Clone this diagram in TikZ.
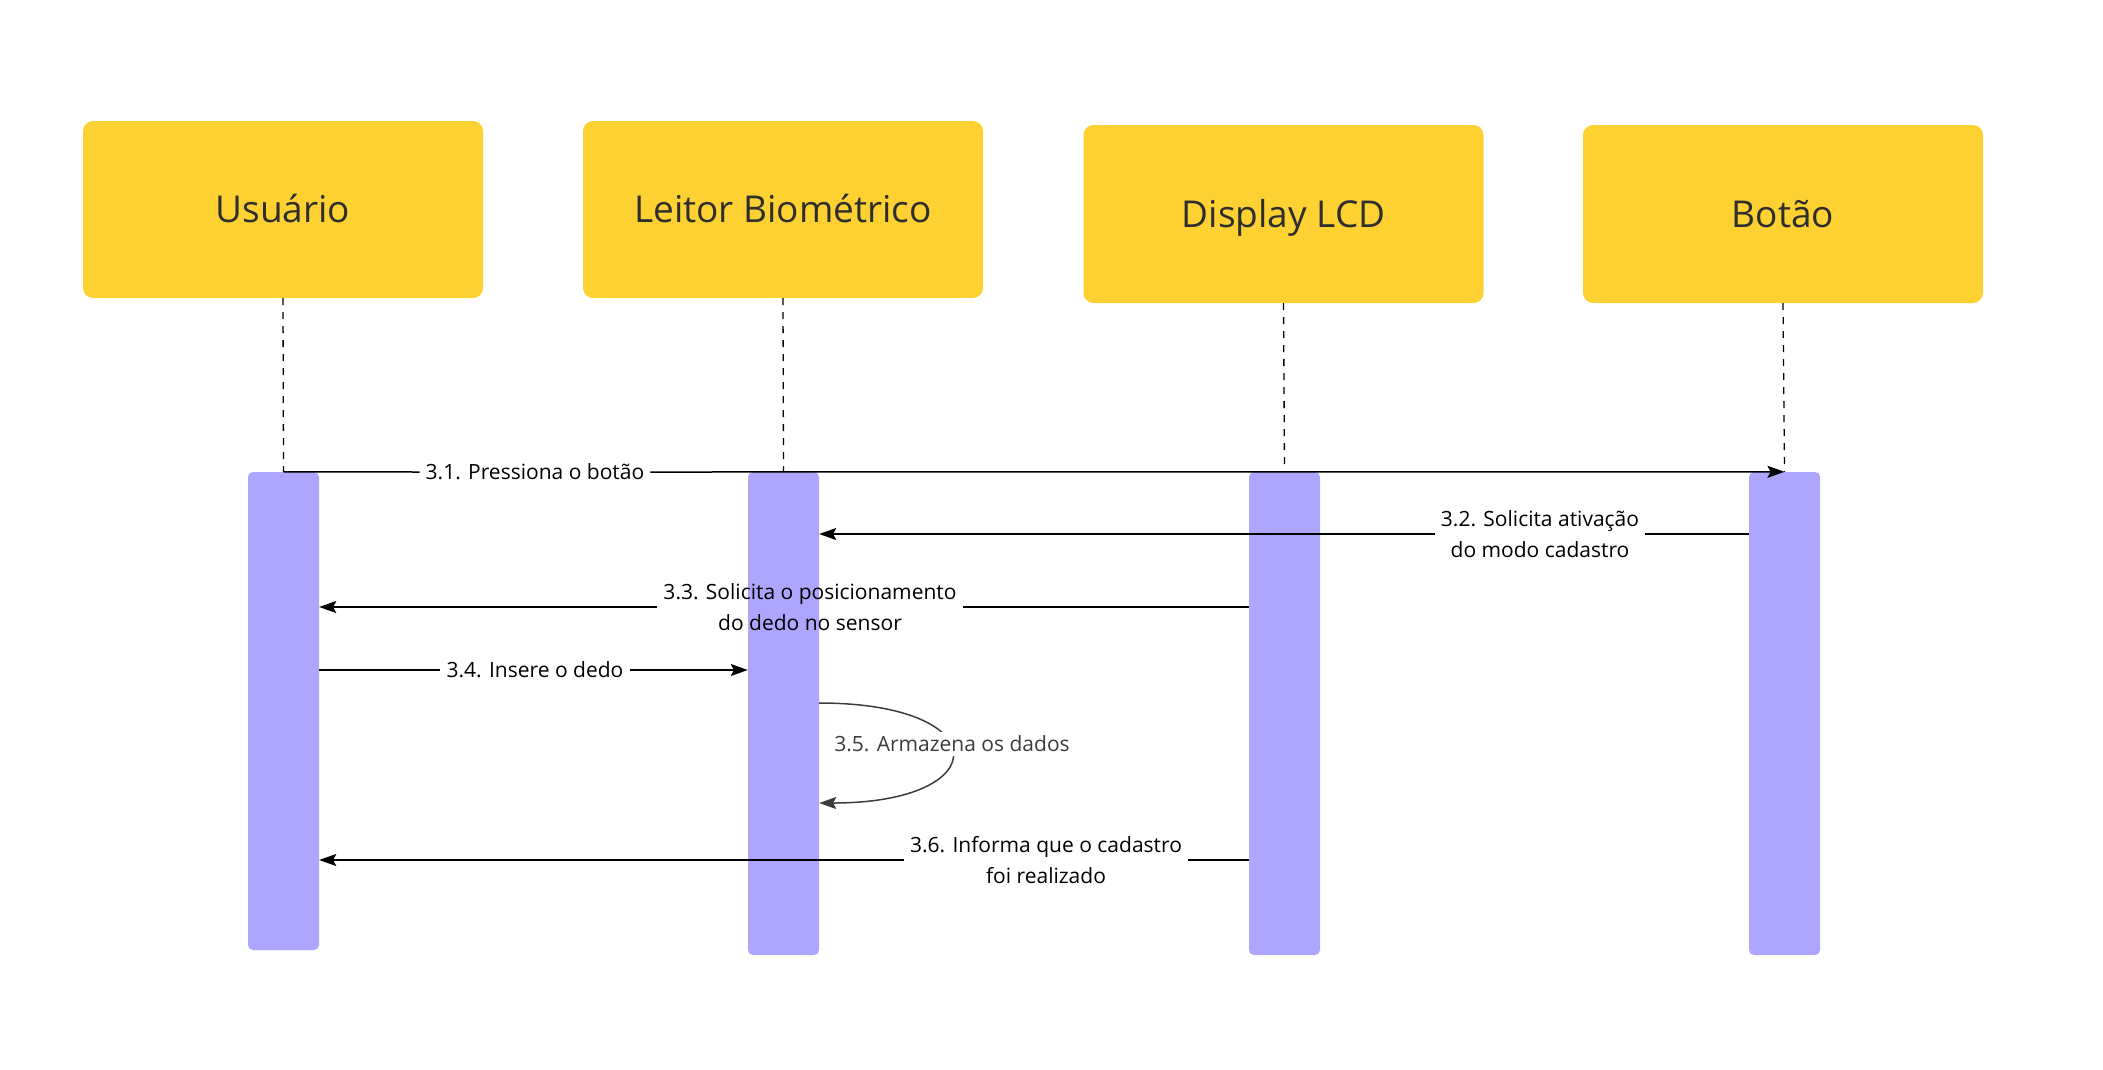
\documentclass[tikz,border=0pt]{standalone}
\usepackage{fontspec}
\setmainfont{Open Sans}
\usetikzlibrary{arrows.meta}
\definecolor{boxyellow}{HTML}{FED132}
\definecolor{barpurple}{HTML}{ADA5FE}
\definecolor{boxtext}{HTML}{2E2E2E}
\definecolor{selfgray}{HTML}{3C3C3C}
\begin{document}
\begin{tikzpicture}[x=1pt,y=-1pt,
 actor/.style={fill=boxyellow, rounded corners=10pt, minimum width=400pt, minimum height=177pt, inner sep=0pt, font=\fontsize{37}{44}\selectfont, text=boxtext, text height=26pt, text depth=0pt},
 bar/.style={fill=barpurple, rounded corners=5pt, minimum width=71pt, inner sep=0pt},
 life/.style={dash pattern=on 7pt off 7pt, line width=1.3pt},
 msg/.style={line width=1.5pt, -{Stealth[length=17pt,width=12pt,inset=3pt]}},
 seg/.style={line width=1.5pt},
 lbl/.style={font=\fontsize{21}{31}\selectfont, align=center, inner sep=6pt, text=black}
]
\useasboundingbox (0,0) rectangle (2103,1069);

% actors
\node[actor] (ua) at (283,209.5) {Usuário};
\node[actor] (la) at (783,209.5) {Leitor Biométrico};
\node[actor, minimum height=178pt] (da) at (1283.5,214) {Display LCD};
\node[actor, minimum height=178pt] (ba) at (1783,214) {Botão};

% activation bars
\node[bar, minimum height=478pt] (ub) at (283.5,711) {};
\node[bar, minimum height=483pt] (lb) at (783.5,713.5) {};
\node[bar, minimum height=483pt] (db) at (1284.5,713.5) {};
\node[bar, minimum height=483pt] (bb) at (1784.5,713.5) {};

% lifelines
\draw[life] (ua.south) -- (ub.north);
\draw[life] (la.south) -- (lb.north);
\draw[life] (da.south) -- (db.north);
\draw[life] (ba.south) -- (bb.north);

% labels
\node[lbl] (l31) at (535,472) {3.1. Pressiona o botão};
\node[lbl] (l32) at (1540,534) {3.2. Solicita ativação\\do modo cadastro};
\node[lbl] (l33) at (810,607) {3.3. Solicita o posicionamento\\do dedo no sensor};
\node[lbl] (l34) at (535,670) {3.4. Insere o dedo};
\node[lbl] (l36) at (1046,860) {3.6. Informa que o cadastro\\foi realizado};

% 3.1
\draw[seg] (ub.north) -- (l31.west);
\draw[msg] (l31.east) -- (bb.north);
% 3.2
\draw[seg] (bb.west |- l32) -- (l32.east);
\draw[msg] (l32.west) -- (lb.east |- l32);
% 3.3
\draw[seg] (db.west |- l33) -- (l33.east);
\draw[msg] (l33.west) -- (ub.east |- l33);
% 3.4
\draw[seg] (ub.east |- l34) -- (l34.west);
\draw[msg] (l34.east) -- (lb.west |- l34);
% 3.6
\draw[seg] (db.west |- l36) -- (l36.east);
\draw[msg] (l36.west) -- (ub.east |- l36);

% 3.5 self message
\coordinate (y35a) at (0,703);
\coordinate (y35b) at (0,803);
\coordinate (s35) at (lb.east |- y35a);
\coordinate (e35) at (lb.east |- y35b);
\draw[selfgray, line width=1.5pt, -{Stealth[length=17pt,width=12pt,inset=3pt]}] (s35) .. controls +(177,0) and +(177,0) .. (e35);
\node[lbl, fill=white, text=selfgray, inner sep=4pt] (l35) at (952,744) {3.5. Armazena os dados};
\end{tikzpicture}
\end{document}
